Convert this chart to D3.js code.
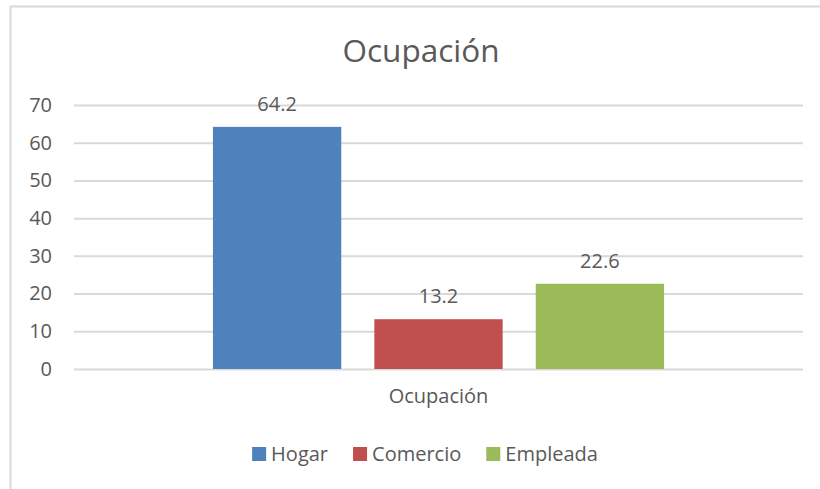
<!DOCTYPE html>
<html>
<head>
<meta charset="utf-8">
<script src="https://cdn.jsdelivr.net/npm/d3@7"></script>
<style>
  body { margin: 0; background: #fff; }
  text { font-family: "Open Sans", "Noto Sans", sans-serif; fill: #595959; }
</style>
</head>
<body>
<div id="chart"></div>
<script>
// chart data
const categories = ["Ocupación"];
const seriesNames = ["Hogar", "Comercio", "Empleada"];
const seriesValues = [64.2, 13.2, 22.6];
const seriesColors = ["#4F81BD", "#C0504D", "#9BBB59"];
const yTicks = [0, 10, 20, 30, 40, 50, 60, 70];
const chartTitle = "Ocupación";

const width = 820;
const height = 489;
const margin = {top: 105, right: 17, bottom: 120, left: 74};

const svg = d3.select("#chart")
  .append("svg")
  .attr("width", width)
  .attr("height", height);

// outer frame (only top and left edges show in the picture)
svg.append("path")
  .attr("d", `M10.5,${height} L10.5,6.5 L${width},6.5`)
  .attr("fill", "none")
  .attr("stroke", "#d9d9d9")
  .attr("stroke-width", 2);

const xScale = d3.scaleBand()
  .domain(categories)
  .range([margin.left, width - margin.right])
  .paddingOuter(0.308);

const xInner = d3.scaleBand()
  .domain(seriesNames)
  .range([0, xScale.bandwidth()])
  .paddingInner(0.205)
  .paddingOuter(0);

const yScale = d3.scaleLinear()
  .domain([0, 70])
  .range([height - margin.bottom, margin.top]);

// gridlines + y labels
const yAxis = d3.axisLeft(yScale)
  .tickValues(yTicks)
  .tickSize(-(width - margin.left - margin.right))
  .tickPadding(22)
  .tickFormat(d3.format("d"));

const yAxisG = svg.append("g")
  .attr("transform", `translate(${margin.left},0)`)
  .call(yAxis);

yAxisG.select(".domain").remove();
yAxisG.selectAll(".tick line")
  .attr("stroke", "#d9d9d9")
  .attr("stroke-width", 2);
yAxisG.selectAll(".tick text")
  .style("font-size", "20px")
  .style("fill", "#595959");

// bars
const bars = seriesNames.map((name, i) => ({name: name, value: seriesValues[i], color: seriesColors[i]}));

const g = svg.append("g")
  .attr("transform", `translate(${xScale(categories[0])},0)`);

g.selectAll("rect")
  .data(bars)
  .enter()
  .append("rect")
  .attr("x", d => xInner(d.name))
  .attr("y", d => yScale(d.value))
  .attr("width", xInner.bandwidth())
  .attr("height", d => yScale(0) - yScale(d.value))
  .attr("fill", d => d.color);

g.selectAll("text.label")
  .data(bars)
  .enter()
  .append("text")
  .attr("class", "label")
  .attr("x", d => xInner(d.name) + xInner.bandwidth() / 2)
  .attr("y", d => yScale(d.value) - 16)
  .attr("text-anchor", "middle")
  .style("font-size", "20px")
  .text(d => d.value.toFixed(1));

// category label
const xAxis = d3.axisBottom(xScale).tickSize(0).tickPadding(20);
const xAxisG = svg.append("g")
  .attr("transform", `translate(0,${yScale(0)})`)
  .call(xAxis);
xAxisG.select(".domain").remove();
xAxisG.selectAll(".tick text")
  .style("font-size", "20px")
  .style("fill", "#595959");

// title
svg.append("text")
  .attr("x", 421)
  .attr("y", 62)
  .attr("text-anchor", "middle")
  .style("font-size", "31.5px")
  .text(chartTitle);

// legend
const legend = svg.append("g");
const legendItems = legend.selectAll("g")
  .data(bars)
  .enter()
  .append("g");

legendItems.append("rect")
  .attr("width", 14)
  .attr("height", 14)
  .attr("y", -7)
  .attr("fill", d => d.color);

legendItems.append("text")
  .attr("x", 19)
  .attr("dy", "0.35em")
  .style("font-size", "20px")
  .text(d => d.name);

let offset = 0;
legendItems.each(function() {
  const w = this.getBBox().width;
  d3.select(this).attr("transform", `translate(${offset},0)`);
  offset += w + 25;
});
const legendWidth = offset - 25;
legend.attr("transform", `translate(${425 - legendWidth / 2},454)`);
</script>
</body>
</html>
